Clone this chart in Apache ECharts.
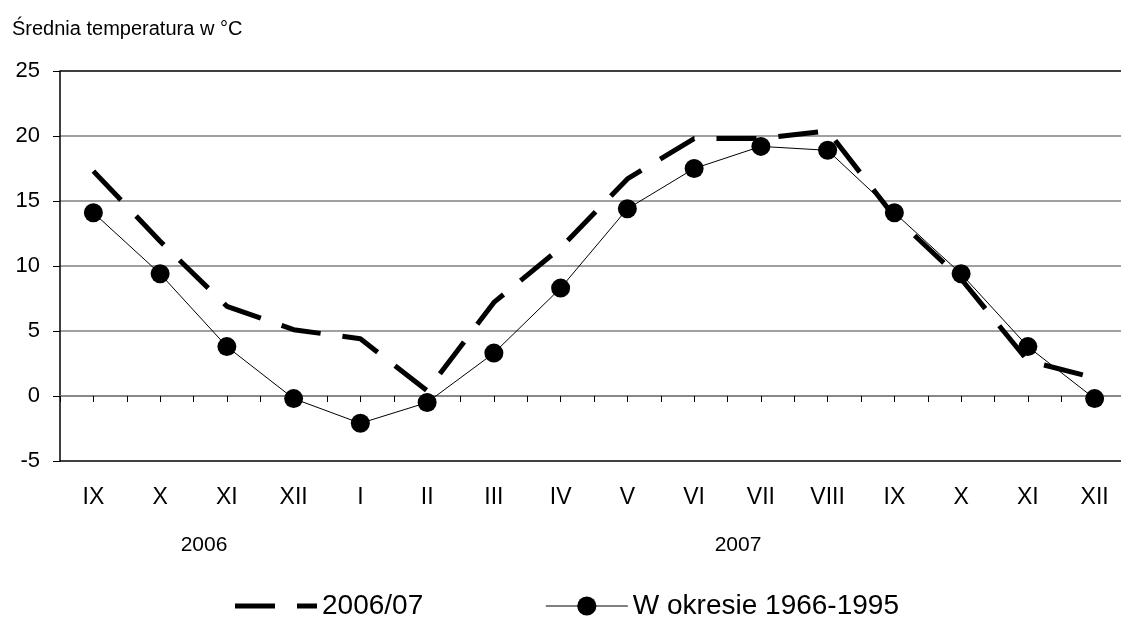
<!DOCTYPE html>
<html>
<head>
<meta charset="utf-8">
<title>Średnia temperatura</title>
<script src="https://cdn.jsdelivr.net/npm/echarts@6/dist/echarts.min.js"></script>
<style>
  html, body { margin: 0; padding: 0; background: #fff; }
  #chart { width: 1121px; height: 619px; }
</style>
</head>
<body>
<div id="chart"></div>
<script>
  // miesiące od IX 2006 do XII 2007
  const months = ['IX', 'X', 'XI', 'XII', 'I', 'II', 'III', 'IV', 'V', 'VI', 'VII', 'VIII', 'IX', 'X', 'XI', 'XII'];
  const temp200607 = [17.3, 11.9, 6.9, 5.1, 4.4, 0.4, 7.2, 11.4, 16.7, 19.8, 19.8, 20.4, 13.8, 9.0, 2.7, 1.4];
  const temp19661995 = [14.1, 9.4, 3.8, -0.2, -2.1, -0.5, 3.3, 8.3, 14.4, 17.5, 19.2, 18.9, 14.1, 9.4, 3.8, -0.2];
  const seriesNames = ['2006/07', 'W okresie 1966-1995'];
  const years = ['2006', '2007'];
  const yMin = -5, yMax = 25, yStep = 5;

  const font = 'Liberation Sans, Arial, sans-serif';
  const grey = '#808080';

  const chart = echarts.init(document.getElementById('chart'));
  chart.setOption({
    animation: false,
    backgroundColor: '#fff',
    textStyle: { fontFamily: font, color: '#000' },
    title: {
      text: 'Średnia temperatura w °C',
      left: 7,
      top: 14,
      textStyle: { fontFamily: font, fontSize: 20, fontWeight: 'normal', color: '#000' }
    },
    grid: { left: 60, top: 71, width: 1068, height: 390, outerBoundsMode: 'none' },
    legend: {
      data: [
        // ikona: długa kreska, przerwa, krótka kreska
        { name: seriesNames[0], icon: 'path://M0,0H40V5H0ZM62,0H82V5H62Z' },
        { name: seriesNames[1], lineStyle: { width: 1.2, color: '#000' } }
      ],
      left: 230,
      top: 587,
      itemWidth: 82,
      itemHeight: 24,
      itemGap: 122,
      textStyle: { fontFamily: font, fontSize: 28, color: '#000' }
    },
    xAxis: [
      {
        type: 'category',
        data: months,
        position: 'bottom',
        axisLine: { show: false, onZero: false },
        axisTick: { show: false },
        axisLabel: { fontFamily: font, fontSize: 23, color: '#000', margin: 25, interval: 0 }
      },
      {
        // krótkie kreski na linii zera, co pół miesiąca
        type: 'value',
        min: 0,
        max: months.length * 2,
        interval: 1,
        position: 'bottom',
        axisLine: { show: true, onZero: true, lineStyle: { color: grey, width: 1.5 } },
        axisTick: { show: true, length: 6, lineStyle: { color: '#000', width: 1 } },
        axisLabel: { show: false },
        splitLine: { show: false }
      }
    ],
    yAxis: {
      type: 'value',
      min: yMin,
      max: yMax,
      interval: yStep,
      axisLine: { show: true, lineStyle: { color: '#000', width: 1.5 } },
      axisTick: { show: true, length: 7, lineStyle: { color: '#000', width: 1 } },
      axisLabel: { fontFamily: font, fontSize: 22, color: '#000', margin: 20 },
      splitLine: {
        show: true,
        lineStyle: { color: ['#000', grey, grey, grey, grey, grey, '#000'], width: 1.5 }
      }
    },
    graphic: years.map((y, i) => ({
      type: 'text',
      x: i === 0 ? 204 : 738,
      y: 545,
      style: {
        text: y,
        fontFamily: font,
        fontSize: 21,
        fill: '#000',
        align: 'center',
        verticalAlign: 'middle'
      }
    })),
    series: [
      {
        name: seriesNames[0],
        type: 'line',
        data: temp200607,
        symbol: 'none',
        color: '#000',
        lineStyle: { color: '#000', width: 5, type: [40, 22], cap: 'butt' },
        z: 3
      },
      {
        name: seriesNames[1],
        type: 'line',
        data: temp19661995,
        symbol: 'circle',
        symbolSize: 19,
        color: '#000',
        itemStyle: { color: '#000' },
        lineStyle: { color: '#000', width: 1 },
        z: 4
      }
    ]
  });
</script>
</body>
</html>
